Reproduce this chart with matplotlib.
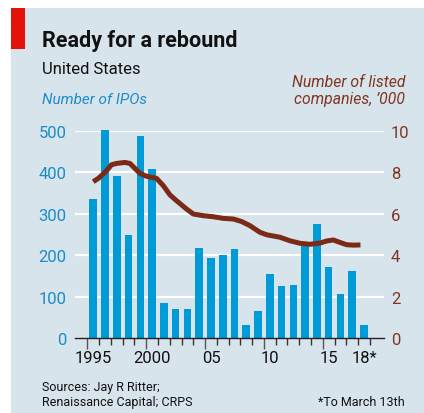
import matplotlib
matplotlib.use("Agg")
import matplotlib.pyplot as plt
from matplotlib.patches import Rectangle

# ---- data ----
years = list(range(1995, 2019))
ipos = [335, 502, 391, 248, 488, 408, 85, 70, 70, 218, 194, 199,
        215, 31, 65, 154, 125, 128, 224, 275, 171, 107, 162, 31]

line_t = [1995.0, 1995.43, 1996.0, 1996.56, 1996.98, 1997.69, 1998.12, 1998.54,
          1998.97, 1999.54, 1999.99, 2000.38, 2000.95, 2001.52, 2002.08, 2002.93,
          2003.5, 2004.35, 2005.2, 2006.05, 2006.9, 2007.6, 2008.31, 2009.16,
          2009.73, 2010.86, 2011.71, 2012.56, 2013.41, 2014.26, 2014.83, 2015.39,
          2015.96, 2016.53, 2017.1, 2017.7]
listed = [7.54, 7.70, 7.99, 8.36, 8.42, 8.47, 8.42, 8.18,
          7.94, 7.80, 7.75, 7.70, 7.35, 6.90, 6.62, 6.22,
          5.98, 5.90, 5.85, 5.77, 5.74, 5.62, 5.42, 5.10,
          4.98, 4.86, 4.69, 4.57, 4.52, 4.58, 4.68, 4.73,
          4.61, 4.50, 4.48, 4.49]

left_ticks = [0, 100, 200, 300, 400, 500]
right_ticks = [0, 2, 4, 6, 8, 10]
xlabel_years = [1995, 2000, 2005, 2010, 2015, 2018]
xlabel_text = ["1995", "2000", "05", "10", "15", "18*"]

# ---- style ----
FONT = ['Roboto', 'DejaVu Sans']
plt.rcParams['font.family'] = FONT
BG = '#d8e4ec'
BAR = '#009ad6'
LINE = '#7a2a16'
BLUE_TXT = '#1a8cc8'
BROWN_TXT = '#7f3520'

fig = plt.figure(figsize=(4.24, 4.14), dpi=100)
fig.patch.set_facecolor('white')
W, H = 424, 414
def fx(px): return px / W
def fy(py): return 1 - py / H

fig.patches.append(Rectangle((fx(11), 0), 1 - fx(11), fy(9), transform=fig.transFigure,
                             facecolor=BG, edgecolor='none', zorder=-10))
fig.patches.append(Rectangle((fx(11), fy(50)), fx(25) - fx(11), fy(9) - fy(50),
                             transform=fig.transFigure, facecolor='#e3120b',
                             edgecolor='none', zorder=-9))

ax = fig.add_axes([fx(75), fy(339), fx(384) - fx(75), fy(131.7) - fy(339)])
ax.set_facecolor('none')
ax.bar(years, ipos, width=0.65, color=BAR, zorder=2, clip_on=False)
ax.set_xlim(1993.45, 2019.7)
ax.set_ylim(0, 500)
for s in ['top', 'right', 'left']:
    ax.spines[s].set_visible(False)
ax.spines['bottom'].set_color('#222222')
ax.spines['bottom'].set_linewidth(1.0)
ax.spines['bottom'].set_zorder(4)

ax.set_yticks(left_ticks)
ax.set_yticklabels([str(v) for v in left_ticks])
ax.tick_params(axis='y', length=0, pad=6, labelsize=12, labelcolor=BLUE_TXT)
for v in left_ticks[1:]:
    ax.axhline(v, color='white', lw=1.6, zorder=1)

major_b = [y - 0.5 for y in (1995, 2000, 2005, 2010, 2015)]
minor_b = [y - 0.5 for y in years + [2019] if (y - 0.5) not in major_b]
ax.set_xticks(major_b)
ax.set_xticklabels([''] * len(major_b))
ax.set_xticks(minor_b, minor=True)
ax.tick_params(axis='x', which='major', length=8, width=1.0, color='#555555')
ax.tick_params(axis='x', which='minor', length=5, width=1.0, color='#333333')
for yv, t in zip(xlabel_years, xlabel_text):
    ax.text(yv, -0.06, t, transform=ax.get_xaxis_transform(), ha='center', va='top',
            fontsize=12, color='#111111')

ax2 = ax.twinx()
ax2.set_ylim(0, 10)
ax2.plot(line_t, listed, color=LINE, lw=3.6, solid_capstyle='butt', zorder=3)
for s in ['top', 'right', 'left', 'bottom']:
    ax2.spines[s].set_visible(False)
ax2.set_yticks(right_ticks)
ax2.set_yticklabels([str(v) for v in right_ticks])
ax2.tick_params(axis='y', length=0, pad=5, labelsize=12, labelcolor=BROWN_TXT)

# ---- text ----
fig.text(fx(42), fy(41), "Ready for a rebound", fontsize=15.5, fontweight='bold',
         ha='left', va='center', color='#111111')
fig.text(fx(42), fy(70), "United States", fontsize=12, ha='left', va='center',
         color='#111111')
fig.text(fx(42), fy(100), "Number of IPOs", fontsize=11, style='italic',
         ha='left', va='center', color=BLUE_TXT)
fig.text(fx(405), fy(91), "Number of listed\ncompanies, \u2019000", fontsize=11.3,
         style='italic', ha='right', va='center', color=BROWN_TXT, linespacing=1.2)
fig.text(fx(42), fy(395), "Sources: Jay R Ritter;\nRenaissance Capital; CRPS",
         fontsize=9, ha='left', va='center', color='#111111', linespacing=1.2)
fig.text(fx(405), fy(403), "*To March 13th", fontsize=9, ha='right', va='center',
         color='#111111')

fig.savefig("out.png", dpi=100, facecolor=fig.get_facecolor())
